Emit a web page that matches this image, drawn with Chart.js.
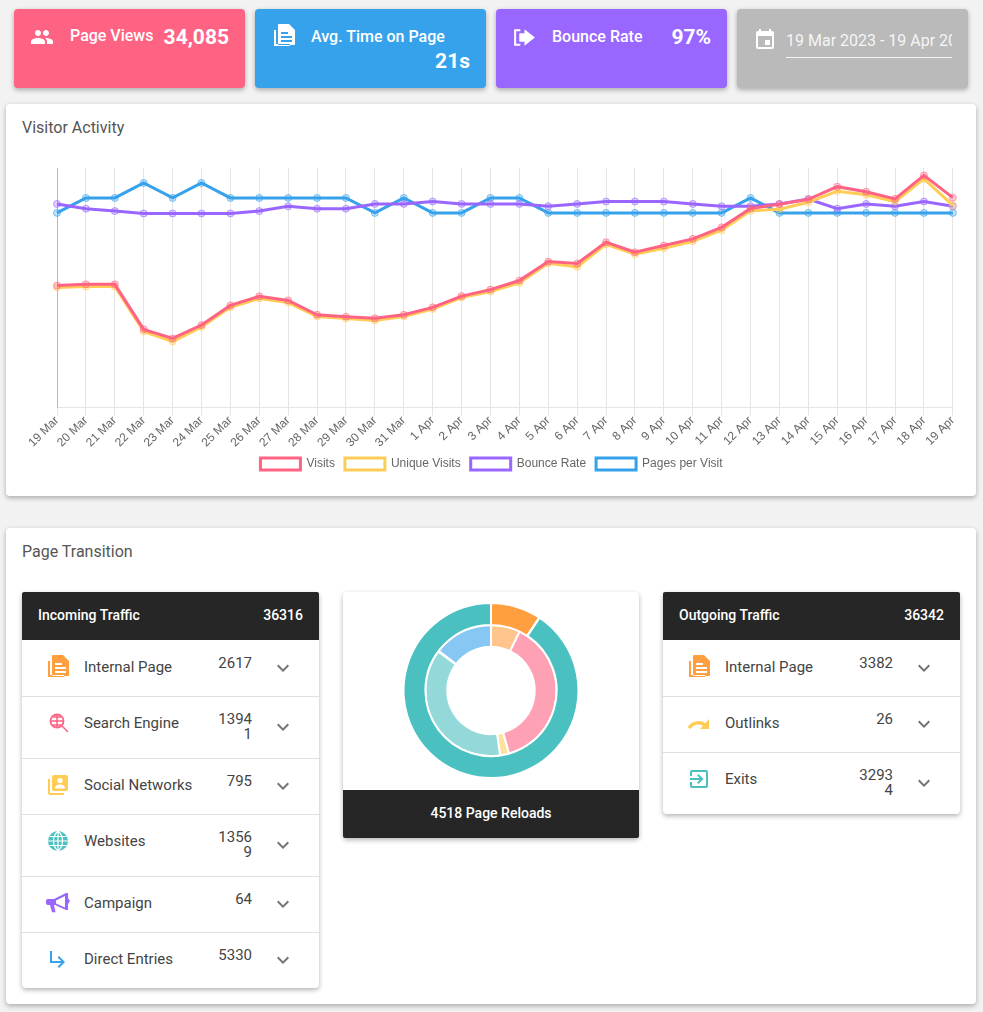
<!DOCTYPE html>
<html>
<head>
<meta charset="utf-8">
<title>Page Transition</title>
<script src="https://cdn.jsdelivr.net/npm/chart.js@4"></script>
<style>
html, body { margin: 0; padding: 0; }
body { position: relative; width: 983px; height: 1012px; overflow: hidden; background: #f2f2f2; font-family: Roboto, sans-serif; color: #444; }
.box { position: absolute; box-sizing: border-box; border-radius: 4px; box-shadow: 0 2px 5px rgba(0,0,0,.3); }
.abs { position: absolute; white-space: nowrap; }
.white { background: #fff; }
.stat { color: #fff; font-size: 16px; font-weight: 500; line-height: 20px; }
.big { color: #fff; font-size: 21px; font-weight: 700; line-height: 24px; }
.title { font-size: 16px; line-height: 20px; color: #555; }
.head { position: absolute; left: 0; right: 0; top: 0; height: 48px; background: #262626; color: #fff; font-size: 14px; font-weight: 500; line-height: 46px; border-radius: 2px 2px 0 0; }
.row { position: relative; box-sizing: border-box; min-height: 56px; border-bottom: 1px solid #e0e0e0; }
.row:last-child { border-bottom: 0; }
.row .name { position: absolute; left: 62px; top: 16px; font-size: 15px; line-height: 20px; color: #444; white-space: nowrap; }
.row .num { margin-left: 192px; width: 38px; padding: 15px 0 16px; font-size: 15px; line-height: 15px; text-align: right; word-break: break-all; color: #444; }
.row svg.icon { position: absolute; left: 24px; top: 14px; width: 24px; height: 24px; }
.row svg.more { position: absolute; left: 249px; top: 50%; margin-top: -13px; width: 24px; height: 24px; fill: #757575; }
</style>
</head>
<body>

<div class="box" style="left:14px;top:9px;width:231px;height:79px;background:#ff6384"></div>
<div class="box" style="left:255px;top:9px;width:231px;height:79px;background:#36a2eb"></div>
<div class="box" style="left:496px;top:9px;width:231px;height:79px;background:#9966ff"></div>
<div class="box" style="left:737px;top:9px;width:231px;height:79px;background:#bababa"></div>

<svg class="abs" style="left:30px;top:25px" width="24" height="24" fill="#fff"><path d="M16 11c1.66 0 2.99-1.34 2.99-3S17.66 5 16 5c-1.66 0-3 1.34-3 3s1.34 3 3 3zm-8 0c1.66 0 2.99-1.34 2.99-3S9.66 5 8 5C6.34 5 5 6.34 5 8s1.34 3 3 3zm0 2c-2.33 0-7 1.17-7 3.5V19h14v-2.5c0-2.33-4.67-3.5-7-3.5zm8 0c-.29 0-.62.02-.97.05 1.16.84 1.97 1.97 1.97 3.45V19h6v-2.5c0-2.33-4.67-3.5-7-3.5z"/></svg>
<div class="abs stat" style="left:70px;top:26px">Page Views</div>
<div class="abs big" style="right:754px;top:25px">34,085</div>

<svg class="abs" style="left:272px;top:24px" width="24" height="24" viewBox="0 0 24 24" fill="#fff" fill-rule="evenodd"><path d="M2 6h2v14h14v2H2zM7 0h10l6 6v14a1 1 0 0 1-1 1H7a1 1 0 0 1-1-1V1a1 1 0 0 1 1-1zM9 8h7v2H9zM9 12h11v2H9zM9 16h11v2H9z"/></svg>
<div class="abs stat" style="left:311px;top:27px">Avg. Time on Page</div>
<div class="abs big" style="right:513px;top:49px">21s</div>

<svg class="abs" style="left:512px;top:25px" width="25" height="25" viewBox="0 0 24 24" fill="#fff"><path d="M12 4l10 8-10 8v-4H7V8h5V4zM2 4h6v2H4v12h4v2H2V4z"/></svg>
<div class="abs stat" style="left:552px;top:27px">Bounce Rate</div>
<div class="abs big" style="right:272px;top:25px">97%</div>

<svg class="abs" style="left:753px;top:28px" width="24" height="24" viewBox="0 0 24 24" fill="#fff"><path d="M17 12h-5v5h5v-5zM16 1v2H8V1H6v2H5c-1.11 0-1.99.9-1.99 2L3 19c0 1.1.89 2 2 2h14c1.1 0 2-.9 2-2V5c0-1.1-.9-2-2-2h-1V1h-2zm3 18H5V8h14v11z"/></svg>
<div class="abs" style="left:786px;top:31px;width:166px;overflow:hidden;font-size:16px;line-height:20px;color:rgba(255,255,255,.88)">19 Mar 2023 - 19 Apr 2023</div>
<div class="abs" style="left:786px;top:57px;width:166px;height:1px;background:#f4f4f4"></div>

<div class="box white" style="left:6px;top:104px;width:970px;height:392px"></div>
<div class="abs title" style="left:22px;top:118px">Visitor Activity</div>
<div class="abs" style="left:22px;top:150px;width:939px;height:330px"><canvas id="activityChart"></canvas></div>

<div class="box white" style="left:6px;top:528px;width:970px;height:476px"></div>
<div class="abs title" style="left:22px;top:542px">Page Transition</div>

<div class="box white" style="left:22px;top:592px;width:297px;height:396px">
  <div class="head"><span class="abs" style="left:16px">Incoming Traffic</span><span class="abs" style="right:16px" id="incomingTotal"></span></div>
  <div id="incomingRows" style="padding-top:49px"></div>
</div>

<div class="box white" style="left:343px;top:592px;width:296px;height:246px">
  <div class="abs" style="left:0;top:10px;width:296px;height:177px"><canvas id="transitionChart"></canvas></div>
  <div class="head" style="top:198px;text-align:center;border-radius:0 0 2px 2px" id="reloadText"></div>
</div>

<div class="box white" style="left:663px;top:592px;width:297px;height:222px">
  <div class="head"><span class="abs" style="left:16px">Outgoing Traffic</span><span class="abs" style="right:16px" id="outgoingTotal"></span></div>
  <div id="outgoingRows" style="padding-top:49px"></div>
</div>

<script>
// Line chart data
const dates = ['19 Mar', '20 Mar', '21 Mar', '22 Mar', '23 Mar', '24 Mar', '25 Mar', '26 Mar', '27 Mar', '28 Mar', '29 Mar', '30 Mar', '31 Mar',
    '1 Apr', '2 Apr', '3 Apr', '4 Apr', '5 Apr', '6 Apr', '7 Apr', '8 Apr', '9 Apr', '10 Apr', '11 Apr', '12 Apr', '13 Apr', '14 Apr', '15 Apr', '16 Apr', '17 Apr', '18 Apr', '19 Apr'];
const visits = [509, 514, 514, 326, 288, 344, 426, 464, 447, 387, 379, 372, 387, 418, 465, 492, 530, 609, 601, 690, 648, 676, 704, 752, 831, 849, 869, 922, 901, 871, 969, 876];
const uniqueVisits = [501, 505, 505, 317, 275, 336, 418, 455, 438, 380, 371, 363, 380, 411, 459, 484, 520, 602, 587, 681, 640, 665, 694, 740, 821, 828, 857, 903, 888, 860, 955, 844];
const bounceRate = [85, 83, 82, 81, 81, 81, 81, 82, 84, 83, 83, 85, 85, 86, 85, 85, 85, 84, 85, 86, 86, 86, 85, 84, 84, 85, 87, 83, 85, 84, 86, 84];
const pagesPerVisit = [13, 14, 14, 15, 14, 15, 14, 14, 14, 14, 14, 13, 14, 13, 13, 14, 14, 13, 13, 13, 13, 13, 13, 13, 14, 13, 13, 13, 13, 13, 13, 13];

// Traffic lists, these also feed the doughnut
const incomingLabels = ['Internal Page', 'Search Engine', 'Social Networks', 'Websites', 'Campaign', 'Direct Entries'];
const incomingValues = [2617, 13941, 795, 13569, 64, 5330];
const incomingColors = ['#ff9f40', '#ff6384', '#ffcd56', '#4bc0c0', '#9966ff', '#36a2eb'];
const outgoingLabels = ['Internal Page', 'Outlinks', 'Exits'];
const outgoingValues = [3382, 26, 32934];
const outgoingColors = ['#ff9f40', '#ffcd56', '#4bc0c0'];
const pageReloads = 4518;

const incomingIcons = [
    c => `<path fill="${c}" fill-rule="evenodd" d="M2 6h2v14h14v2H2zM7 0h10l6 6v14a1 1 0 0 1-1 1H7a1 1 0 0 1-1-1V1a1 1 0 0 1 1-1zM9 8h7v2H9zM9 12h11v2H9zM9 16h11v2H9z"/>`,
    c => `<circle cx="11" cy="10" r="6.5" fill="none" stroke="${c}" stroke-width="1.8"/><path d="M4.5 10h13M11 3.5v13M7 6h8M7 14h8M15.5 14.5l6.5 6.5" stroke="${c}" stroke-width="1.5" fill="none"/>`,
    c => `<path fill="${c}" d="M4 6H2v14c0 1.1.9 2 2 2h14v-2H4V6zm16-4H8c-1.1 0-2 .9-2 2v12c0 1.1.9 2 2 2h12c1.1 0 2-.9 2-2V4c0-1.1-.9-2-2-2z"/><circle cx="14" cy="7.5" r="2.6" fill="#fff"/><path fill="#fff" d="M9 15c0-2.5 3-3.6 5-3.6s5 1.1 5 3.6v.5H9z"/>`,
    c => `<circle cx="12" cy="12" r="10" fill="${c}"/><path d="M2 12h20M3.5 7.5h17M3.5 16.5h17M12 2v20M12 2c-6 5-6 15 0 20M12 2c6 5 6 15 0 20" stroke="#fff" stroke-width="1.2" fill="none"/>`,
    c => `<path fill="${c}" d="M0 10c0-1.2.8-2 2-2h6l12-6h2v5l2 3-2 3v6h-2l-11-5-1 .2 1.5 7H6L4 14H2c-1.2 0-2-.8-2-2z"/><path fill="#fff" d="M19 5l-9 4.5v3l9 4z"/>`,
    c => `<path fill="${c}" d="M19 15l-6 6-1.42-1.42L15.17 16H4V4h2v10h9.17l-3.59-3.58L13 9l6 6z"/>`
];
const outgoingIcons = [
    incomingIcons[0],
    c => `<path fill="none" stroke="${c}" stroke-width="3.5" d="M2 17c3-5 10-7 16-3"/><path fill="${c}" d="M22 8v10h-9z"/>`,
    c => `<path fill="${c}" d="M10.09 15.59L11.5 17l5-5-5-5-1.41 1.41L12.67 11H3v2h9.67l-2.58 2.59zM19 3H5c-1.11 0-2 .9-2 2v4h2V5h14v14H5v-4H3v4c0 1.1.89 2 2 2h14c1.1 0 2-.9 2-2V5c0-1.1-.9-2-2-2z"/>`
];
const chevron = '<svg class="more" viewBox="0 0 24 24"><path d="M16.59 8.59L12 13.17 7.41 8.59 6 10l6 6 6-6z"/></svg>';

// Hex colour to rgba string
function fade(hex, alpha) {
    const n = parseInt(hex.slice(1), 16);
    return `rgba(${n >> 16}, ${(n >> 8) & 255}, ${n & 255}, ${alpha})`;
}

// Function to fill one of the traffic lists
function buildRows(id, labels, values, colors, icons) {
    document.getElementById(id).innerHTML = labels.map((label, i) =>
        `<div class="row"><svg class="icon" viewBox="0 0 24 24">${icons[i](colors[i])}</svg>` +
        `<div class="name">${label}</div><div class="num">${values[i]}</div>${chevron}</div>`
    ).join('');
}

function lineSet(label, data, color, axis) {
    return {
        label,
        data,
        yAxisID: axis,
        borderColor: color,
        backgroundColor: 'rgba(255, 255, 255, 0.2)',
        borderWidth: 3,
        tension: 0,
        pointRadius: 3.5,
        pointBorderWidth: 1,
        pointBorderColor: fade(color, 0.6),
        pointBackgroundColor: fade(color, 0.3)
    };
}

buildRows('incomingRows', incomingLabels, incomingValues, incomingColors, incomingIcons);
buildRows('outgoingRows', outgoingLabels, outgoingValues, outgoingColors, outgoingIcons);
document.getElementById('incomingTotal').textContent = incomingValues.reduce((a, b) => a + b, 0);
document.getElementById('outgoingTotal').textContent = outgoingValues.reduce((a, b) => a + b, 0);
document.getElementById('reloadText').textContent = pageReloads + ' Page Reloads';

Chart.defaults.font.family = '"Liberation Sans", Arial, sans-serif';
Chart.defaults.font.size = 12;
Chart.defaults.color = '#666';

new Chart(document.getElementById('activityChart'), {
    type: 'line',
    data: {
        labels: dates,
        datasets: [
            lineSet('Visits', visits, '#ff6384', 'y'),
            lineSet('Unique Visits', uniqueVisits, '#ffcd56', 'y'),
            lineSet('Bounce Rate', bounceRate, '#9966ff', 'yBounce'),
            lineSet('Pages per Visit', pagesPerVisit, '#36a2eb', 'yPages')
        ]
    },
    options: {
        responsive: true,
        maintainAspectRatio: false,
        animation: false,
        layout: { padding: { top: 18 } },
        plugins: {
            legend: { position: 'bottom', labels: { boxWidth: 40, padding: 10 } },
            tooltip: { enabled: false }
        },
        scales: {
            x: {
                grid: { color: 'rgba(0, 0, 0, 0.1)', tickLength: 8 },
                border: { color: 'rgba(0, 0, 0, 0.1)' },
                ticks: { maxRotation: 45, minRotation: 45, autoSkip: false, padding: -2, color: '#666' }
            },
            y: {
                min: 0,
                max: 1000,
                afterFit: scale => { scale.width = 35; },
                grid: { display: false, drawTicks: false },
                border: { color: 'rgba(0, 0, 0, 0.2)' },
                ticks: { display: false }
            },
            yBounce: { display: false, min: 0, max: 100 },
            yPages: { display: false, min: 0, max: 16 }
        }
    }
});

new Chart(document.getElementById('transitionChart'), {
    type: 'doughnut',
    data: {
        datasets: [
            { data: outgoingValues, backgroundColor: outgoingColors, borderColor: '#fff', borderWidth: 2 },
            { data: incomingValues, backgroundColor: incomingColors.map(c => fade(c, 0.6)), borderColor: '#fff', borderWidth: 2 }
        ]
    },
    options: {
        responsive: true,
        maintainAspectRatio: false,
        animation: false,
        cutout: '50%',
        layout: { padding: 0 },
        plugins: { legend: { display: false }, tooltip: { enabled: false } }
    }
});
</script>
</body>
</html>
